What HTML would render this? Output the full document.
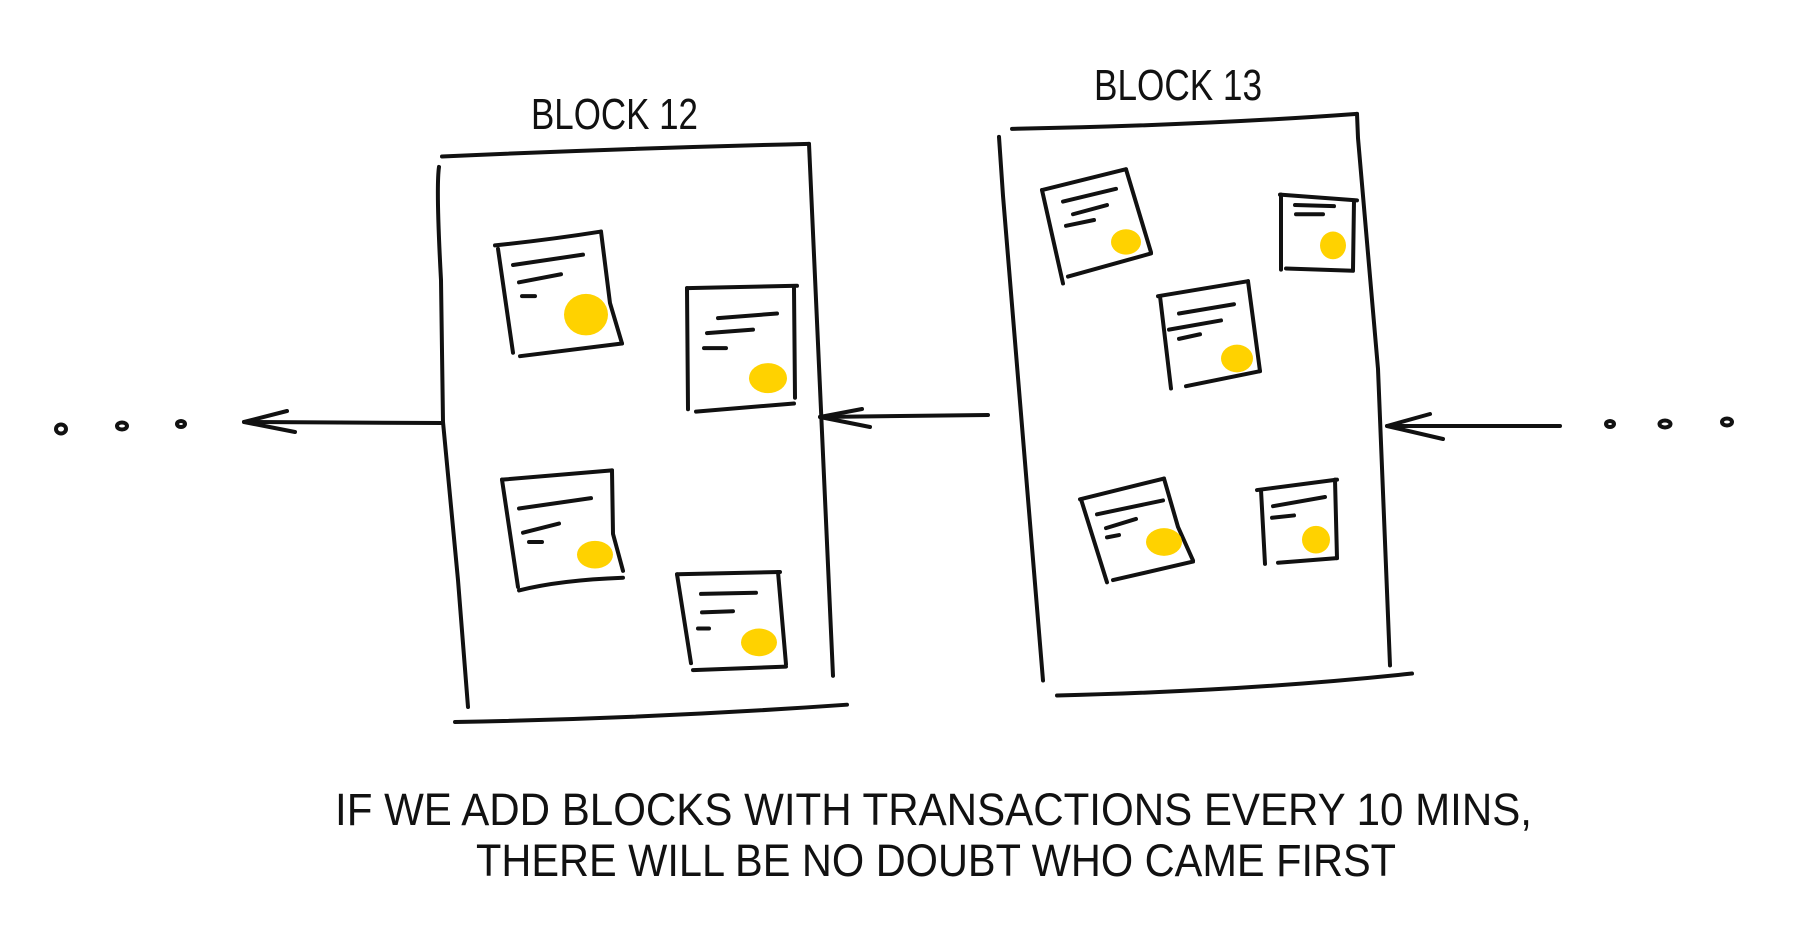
<!DOCTYPE html>
<html><head><meta charset="utf-8"><style>
html,body{margin:0;padding:0;background:#fff;}
svg{display:block;}
text{font-family:"Liberation Sans",sans-serif;fill:#111;}
path,ellipse{vector-effect:non-scaling-stroke;}
</style></head><body>
<svg width="1800" height="947" viewBox="0 0 1800 947" xmlns="http://www.w3.org/2000/svg">
<g transform="translate(0,130) scale(1,1.154) translate(0,-130)">
<g fill="none" stroke="#111" stroke-width="4" stroke-linecap="round" stroke-linejoin="round">
<path d="M442,153 Q620,146 809,142"/>
<path d="M809,142 L812,200 L833,603"/>
<path d="M439,162 Q436,180 441,260 L443,383 L458,520 L468,630"/>
<path d="M455,643 Q650,640 847,628"/>
<path d="M495,230 Q550,225 601,218"/><path d="M498,233 L513,323"/><path d="M601,218 L610,280 L622,315"/><path d="M520,326 L622,315"/>
<path d="M513,247 L583,238"/><path d="M519,262 L561,255"/><path d="M522,274 L535,274"/>
<path d="M687,267 L797,265"/><path d="M687,267 L688,372"/><path d="M794,267 L795,362"/><path d="M696,374 L794,367"/>
<path d="M718,293 L777,289"/><path d="M707,306 L753,303"/><path d="M704,319 L726,319"/>
<path d="M502,433 L612,425"/><path d="M502,433 L518,526"/><path d="M612,425 L613,480 L623,512"/><path d="M519,529 Q560,520 623,518"/>
<path d="M519,458 L591,449"/><path d="M523,479 L559,471"/><path d="M529,487 L542,487"/>
<path d="M677,515 L780,513"/><path d="M677,515 L691,592"/><path d="M778,513 L786,593"/><path d="M693,598 L786,595"/>
<path d="M701,532 L756,531"/><path d="M702,548 L733,547"/><path d="M698,562 L709,562"/>
</g>
<g fill="#ffd200">
<ellipse cx="586" cy="290" rx="22" ry="18"/>
<ellipse cx="768" cy="345" rx="19" ry="13"/>
<ellipse cx="595" cy="498" rx="18" ry="12"/>
<ellipse cx="759" cy="574" rx="18" ry="12"/>
</g>
</g>
<g transform="translate(0,100) scale(1,1.154) translate(0,-100)">
<g fill="none" stroke="#111" stroke-width="4" stroke-linecap="round" stroke-linejoin="round">
<path d="M1012,125 Q1200,122 1357,112"/>
<path d="M1357,112 L1358,133 L1378,333 L1390,590"/>
<path d="M999,132 L1003,183 L1043,603"/>
<path d="M1057,616 Q1250,612 1412,597"/>
<path d="M1042,178 L1126,160"/><path d="M1042,178 L1063,259"/><path d="M1126,160 L1151,232"/><path d="M1068,253 L1151,233"/>
<path d="M1063,188 L1116,177"/><path d="M1073,199 L1107,191"/><path d="M1066,209 L1094,204"/>
<path d="M1280,182 L1357,187"/><path d="M1281,182 L1281,247"/><path d="M1354,187 L1353,247"/><path d="M1286,246 L1353,248"/>
<path d="M1295,191 L1334,192"/><path d="M1296,199 L1323,199"/>
<path d="M1158,270 L1248,257"/><path d="M1160,270 L1171,350"/><path d="M1248,257 L1260,335"/><path d="M1186,348 L1260,335"/>
<path d="M1179,285 L1234,277"/><path d="M1169,299 L1221,291"/><path d="M1179,307 L1200,303"/>
<path d="M1080,446 L1164,428"/><path d="M1081,446 L1107,518"/><path d="M1164,428 L1178,470 L1193,499"/><path d="M1113,516 L1193,500"/>
<path d="M1097,459 L1163,447"/><path d="M1106,471 L1136,463"/><path d="M1107,479 L1119,477"/>
<path d="M1257,438 L1337,429"/><path d="M1261,438 L1265,502"/><path d="M1335,429 L1337,497"/><path d="M1278,501 L1337,497"/>
<path d="M1273,452 L1325,444"/><path d="M1272,462 L1294,460"/>
</g>
<g fill="#ffd200">
<ellipse cx="1126" cy="223" rx="15" ry="11"/>
<ellipse cx="1333" cy="226" rx="13" ry="12"/>
<ellipse cx="1237" cy="324" rx="16" ry="12"/>
<ellipse cx="1164" cy="483" rx="18" ry="12"/>
<ellipse cx="1316" cy="481" rx="14" ry="12"/>
</g>
</g>
<g fill="none" stroke="#111" stroke-width="4" stroke-linecap="round" stroke-linejoin="round" transform="translate(0,3)">
<path d="M244,419 L442,420"/><path d="M287,408 L244,419 L295,429"/>
<path d="M988,412 L820,414"/><path d="M862,406 L820,414 L870,424"/>
<path d="M1560,423 L1387,423"/><path d="M1430,411 L1387,423 L1443,436"/>
<ellipse cx="61" cy="426" rx="5" ry="4.5"/><ellipse cx="122" cy="423" rx="5" ry="3.5"/><ellipse cx="181" cy="421" rx="4" ry="3"/>
<ellipse cx="1610" cy="421" rx="4" ry="3"/><ellipse cx="1665" cy="421" rx="5.5" ry="3.5"/><ellipse cx="1727" cy="419" rx="5" ry="3.5"/>
</g>
<text x="531" y="129" font-size="44" textLength="167" lengthAdjust="spacingAndGlyphs">BLOCK 12</text>
<text x="1094" y="100" font-size="44" textLength="168" lengthAdjust="spacingAndGlyphs">BLOCK 13</text>
<text x="335" y="825" font-size="45" textLength="1197" lengthAdjust="spacingAndGlyphs">IF WE ADD BLOCKS WITH TRANSACTIONS EVERY 10 MINS,</text>
<text x="476" y="876" font-size="45" textLength="920" lengthAdjust="spacingAndGlyphs">THERE WILL BE NO DOUBT WHO CAME FIRST</text>
</svg>
</body></html>
